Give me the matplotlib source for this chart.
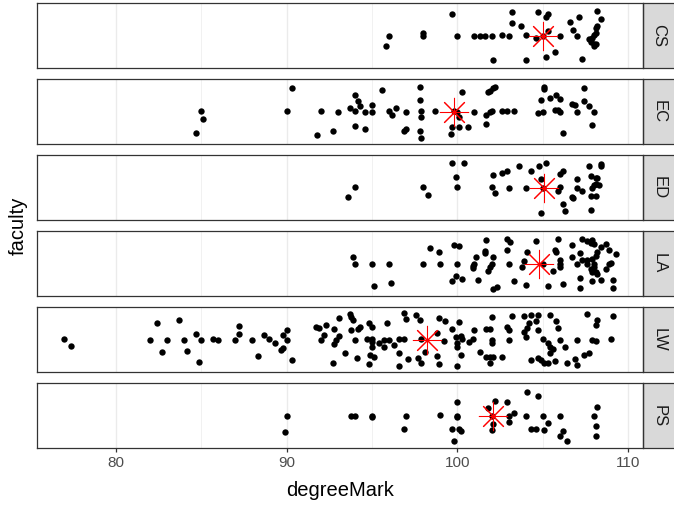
#!/usr/bin/env python3
"""Degree marks by faculty: jittered points with the faculty mean as a red asterisk."""

import matplotlib

matplotlib.use("Agg")
import matplotlib.pyplot as plt
from matplotlib.patches import Rectangle

plt.rcParams["font.family"] = ["Liberation Sans", "DejaVu Sans"]

faculties = ["CS", "EC", "ED", "LA", "LW", "PS"]
faculty_means = [105.0, 99.8, 105.1, 104.8, 98.2, 102.1]
x_ticks = [80, 90, 100, 110]

# degreeMark and vertical jitter for every student, per faculty
cs_mark = [96.0, 95.8, 98.0, 98.0, 99.7, 100.0, 101.0, 101.3, 101.6, 102.0,
           102.1, 102.6, 103.0, 103.2, 103.2, 103.7, 104.0, 104.0, 104.6, 104.7,
           105.0, 105.2, 105.3, 105.2, 105.3, 105.7, 106.0, 106.6, 106.8, 107.0,
           107.1, 107.3, 108.2, 108.4, 108.2, 108.1, 108.1, 108.0, 107.9, 107.7,
           107.8, 108.0, 108.1, 108.0]
cs_jit = [0.00, -0.20, 0.05, 0.00, 0.41, 0.00, 0.00, -0.01, -0.01, 0.00,
          -0.46, 0.02, 0.00, 0.43, 0.24, 0.18, 0.01, -0.45, -0.05, 0.44,
          0.00, 0.34, 0.41, -0.40, 0.09, -0.30, 0.00, 0.25, 0.10, 0.00,
          0.35, -0.43, 0.46, 0.30, 0.18, 0.15, 0.05, 0.02, -0.05, -0.07,
          -0.12, -0.16, -0.15, -0.20]

ec_mark = [85.0, 85.1, 84.7, 90.3, 90.0, 92.0, 91.8, 92.7, 93.0, 93.7,
           94.0, 94.2, 94.3, 94.0, 94.0, 94.6, 94.6, 95.0, 95.0, 95.6,
           96.0, 96.2, 96.4, 97.0, 96.9, 97.0, 97.8, 97.8, 97.9, 97.9,
           97.8, 97.9, 98.7, 99.6, 99.7, 99.8, 100.0, 100.1, 100.1, 100.3,
           100.6, 101.0, 101.7, 101.7, 101.9, 102.0, 101.8, 101.9, 102.1, 102.2,
           102.6, 102.9, 103.3, 104.7, 105.0, 104.9, 105.1, 105.1, 105.4, 105.8,
           106.0, 105.7, 105.9, 106.0, 106.2, 106.7, 106.9, 107.0, 107.4, 107.4,
           107.7, 108.0, 107.9]
ec_jit = [0.01, -0.13, -0.40, 0.44, 0.01, 0.01, -0.44, -0.35, 0.00, 0.06,
          0.31, 0.19, 0.10, 0.01, -0.27, 0.00, -0.33, 0.13, 0.00, 0.41,
          0.02, -0.07, 0.07, 0.00, -0.36, -0.33, 0.46, 0.21, 0.02, -0.10,
          -0.35, -0.48, 0.01, -0.41, -0.28, 0.01, 0.00, -0.10, -0.28, 0.36,
          -0.29, 0.00, -0.06, -0.23, 0.00, 0.02, 0.36, 0.39, 0.43, 0.46,
          0.02, 0.02, 0.02, -0.03, 0.00, 0.22, 0.42, 0.46, 0.26, 0.31,
          0.23, 0.03, 0.03, 0.00, -0.40, 0.15, 0.13, 0.00, 0.44, 0.19,
          0.10, 0.00, -0.25]

ed_mark = [94.0, 93.6, 98.0, 98.3, 99.7, 100.4, 99.9, 100.0, 102.0, 102.2,
           102.1, 102.6, 102.9, 103.0, 103.6, 104.0, 104.3, 104.8, 105.2, 104.9,
           105.0, 106.0, 106.2, 106.0, 105.9, 106.2, 106.3, 104.9, 107.0, 107.0,
           107.3, 106.7, 106.8, 107.7, 108.4, 108.4, 107.8, 108.1, 108.2, 108.0,
           108.1, 108.3, 107.9, 107.8, 108.1, 107.8]
ed_jit = [0.01, -0.17, 0.01, -0.13, 0.45, 0.45, 0.19, 0.01, 0.01, -0.10,
          0.24, 0.27, 0.31, 0.00, 0.41, 0.00, 0.31, 0.41, 0.45, 0.16,
          0.00, 0.25, 0.31, 0.02, -0.06, -0.30, -0.43, -0.47, 0.16, 0.00,
          -0.07, -0.17, -0.20, 0.41, 0.44, 0.40, 0.22, 0.17, 0.18, 0.04,
          0.06, 0.04, -0.01, -0.15, -0.16, -0.41]

la_mark = [93.9, 94.0, 95.0, 96.0, 95.1, 96.1, 98.0, 98.4, 98.9, 99.0,
           99.8, 100.1, 100.0, 99.9, 99.7, 100.3, 101.1, 101.0, 100.9, 100.9,
           101.2, 101.6, 101.6, 101.7, 102.1, 102.0, 101.9, 101.8, 102.1, 102.3,
           102.9, 103.1, 102.9, 103.0, 103.3, 103.9, 103.8, 104.0, 104.1, 104.6,
           105.0, 105.3, 105.6, 105.7, 105.8, 105.9, 106.0, 106.0, 106.0, 106.2,
           106.7, 106.7, 107.0, 107.2, 107.2, 107.2, 107.3, 107.6, 107.8, 107.9,
           108.0, 108.4, 108.7, 108.9, 109.3, 108.2, 108.1, 107.9, 107.6, 108.0,
           107.6, 107.3, 109.0, 108.9, 108.7, 107.8, 108.0, 107.9, 108.1, 108.2,
           107.9, 108.4, 109.1, 109.1]
la_jit = [0.13, 0.00, 0.00, 0.00, -0.41, -0.35, 0.00, 0.29, 0.21, 0.00,
          0.34, 0.32, 0.00, -0.22, -0.32, -0.28, 0.13, 0.00, -0.04, -0.08,
          -0.31, 0.23, 0.19, 0.44, 0.12, 0.00, -0.06, -0.14, -0.47, -0.43,
          0.45, 0.41, 0.25, 0.00, -0.32, 0.05, -0.07, -0.40, 0.22, 0.42,
          0.00, -0.42, -0.14, 0.25, 0.22, 0.45, 0.07, 0.00, -0.07, -0.38,
          0.35, 0.12, 0.00, 0.19, -0.27, -0.46, 0.45, 0.42, 0.39, 0.43,
          0.37, 0.30, 0.37, 0.25, 0.17, 0.22, 0.14, 0.09, 0.07, 0.00,
          0.00, 0.06, 0.02, 0.00, -0.09, -0.09, -0.06, -0.16, -0.15, -0.19,
          -0.32, -0.30, -0.30, -0.45]

lw_mark = [77.0, 77.4, 82.4, 82.0, 82.7, 83.0, 83.7, 84.0, 84.2, 84.7,
           85.0, 84.9, 85.7, 86.0, 87.0, 87.2, 87.2, 88.0, 88.3, 88.7,
           89.0, 89.3, 89.8, 90.0, 90.0, 89.7, 89.8, 90.3, 91.7, 91.9,
           92.3, 92.2, 92.0, 92.8, 93.1, 93.1, 92.9, 92.8, 92.7, 93.7,
           93.8, 93.9, 93.8, 94.2, 94.3, 94.8, 95.0, 93.4, 94.0, 94.1,
           94.7, 95.0, 95.0, 95.0, 94.9, 95.1, 94.8, 95.4, 95.7, 96.0,
           95.7, 95.9, 96.3, 96.6, 96.9, 96.6, 96.6, 96.9, 97.0, 97.1,
           97.6, 97.8, 97.7, 97.9, 97.9, 98.1, 98.8, 98.8, 98.9, 98.9,
           99.2, 99.3, 99.7, 100.1, 99.9, 100.2, 100.3, 100.0, 100.0, 100.2,
           100.0, 100.7, 100.9, 101.0, 101.3, 101.7, 101.9, 102.0, 102.0, 102.0,
           101.7, 101.9, 102.1, 101.9, 102.6, 102.9, 103.0, 103.0, 103.2, 103.9,
           104.3, 104.7, 104.2, 104.1, 103.9, 104.0, 104.7, 104.6, 104.3, 104.7,
           104.9, 105.1, 105.3, 105.7, 105.0, 105.3, 105.4, 105.4, 105.6, 105.4,
           105.8, 105.9, 106.0, 106.3, 106.4, 106.9, 107.0, 107.0, 107.4, 107.7,
           107.6, 108.1, 108.2, 107.9, 108.1, 109.0, 109.1]
lw_jit = [0.01, -0.12, 0.30, 0.00, -0.23, 0.00, 0.37, 0.00, -0.21, 0.10,
          0.00, -0.42, 0.02, 0.00, 0.00, 0.26, 0.10, 0.00, -0.30, 0.08,
          0.02, -0.06, 0.09, 0.17, 0.00, -0.19, -0.15, -0.37, 0.23, 0.21,
          0.28, 0.09, 0.00, 0.19, 0.41, 0.06, 0.00, -0.08, -0.43, 0.47,
          0.42, 0.37, 0.17, 0.20, 0.24, 0.31, 0.23, -0.25, 0.00, -0.34,
          0.02, 0.01, -0.05, -0.13, -0.29, -0.33, -0.45, -0.07, 0.00, 0.00,
          -0.14, 0.30, -0.09, 0.02, 0.02, -0.24, -0.49, 0.49, 0.39, -0.35,
          0.46, 0.36, -0.34, -0.44, 0.02, -0.22, 0.12, -0.31, 0.41, -0.46,
          -0.02, 0.34, 0.20, 0.32, 0.04, 0.06, 0.02, -0.06, -0.14, -0.29,
          -0.49, -0.05, 0.02, 0.17, -0.22, 0.20, 0.20, 0.42, 0.00, -0.07,
          -0.33, -0.32, -0.32, -0.44, -0.32, 0.23, 0.17, 0.00, 0.44, 0.44,
          0.45, 0.46, 0.30, 0.21, 0.14, 0.05, 0.17, 0.34, -0.38, -0.34,
          -0.38, -0.43, -0.44, -0.40, 0.02, -0.07, -0.14, -0.25, -0.17, 0.45,
          0.34, 0.21, 0.00, -0.14, -0.44, -0.35, 0.00, -0.47, -0.28, -0.25,
          0.48, 0.28, 0.36, 0.00, -0.02, 0.01, 0.44]

ps_mark = [90.0, 89.9, 93.8, 94.0, 95.0, 95.0, 97.0, 96.9, 99.0, 100.0,
           100.0, 100.0, 99.7, 100.1, 100.2, 99.8, 101.8, 102.2, 102.0, 102.1,
           102.0, 102.9, 103.0, 103.0, 103.3, 104.1, 104.7, 104.0, 104.3, 104.6,
           105.0, 105.3, 105.1, 106.0, 106.2, 106.0, 106.4, 108.0, 108.2, 108.1,
           108.1]
ps_jit = [0.00, -0.30, 0.00, 0.00, 0.00, -0.03, 0.00, -0.25, 0.02, 0.25,
          0.00, -0.03, -0.24, -0.24, -0.28, -0.47, 0.14, 0.28, 0.00, -0.16,
          -0.27, 0.25, 0.00, -0.12, 0.05, 0.44, 0.36, 0.00, -0.25, -0.24,
          0.00, -0.14, -0.27, 0.00, -0.29, -0.37, -0.47, 0.00, 0.16, -0.19,
          -0.37]

panels = [
    (cs_mark, cs_jit),
    (ec_mark, ec_jit),
    (ed_mark, ed_jit),
    (la_mark, la_jit),
    (lw_mark, lw_jit),
    (ps_mark, ps_jit),
]

W, H = 674, 508
fig, axes = plt.subplots(6, 1, figsize=(W / 100, H / 100), dpi=100, sharex=True)
fig.subplots_adjust(left=37 / W, right=643 / W, top=1 - 3.3 / H,
                    bottom=1 - 448 / H, hspace=11.3 / 64.7)

strip_w = 33 / 606
for ax, name, (marks, jit), mean in zip(axes, faculties, panels, faculty_means):
    ax.set_xlim(75.39, 110.87)
    ax.set_ylim(-0.6, 0.6)
    ax.set_yticks([])
    for x in [85, 95, 105]:
        ax.axvline(x, color="#EBEBEB", lw=0.5, zorder=0)
    for x in x_ticks:
        ax.axvline(x, color="#EBEBEB", lw=1.0, zorder=0)
    for sp in ax.spines.values():
        sp.set_color("#333333")
        sp.set_linewidth(0.9)

    ax.scatter(marks, jit, s=21, color="black", linewidths=0, zorder=3)
    ax.plot([mean], [0], marker=(8, 2, 0), ms=21, mew=0.75, color="red",
            linestyle="none", zorder=4)

    # facet strip on the right, running off the figure edge
    ax.add_patch(Rectangle((1, 0), strip_w, 1, transform=ax.transAxes,
                           facecolor="#D9D9D9", edgecolor="#333333", lw=0.9,
                           clip_on=False))
    ax.text(1 + 16 / 606, 0.5, name, transform=ax.transAxes, rotation=-90,
            ha="center", va="center", fontsize=12, color="#1A1A1A")

ax = axes[-1]
ax.set_xticks(x_ticks)
ax.tick_params(axis="x", length=3, width=0.9, color="#333333",
               labelsize=11, labelcolor="#4D4D4D", pad=2.5)
for a in axes[:-1]:
    a.tick_params(axis="x", length=0)

fig.text((37 + 643) / 2 / W, 1 - 491 / H, "degreeMark", ha="center",
         va="center", fontsize=14.5)
fig.text(18 / W, 1 - 225.6 / H, "faculty", ha="center", va="center",
         rotation=90, fontsize=14.5)

plt.savefig("out.png", dpi=100)
